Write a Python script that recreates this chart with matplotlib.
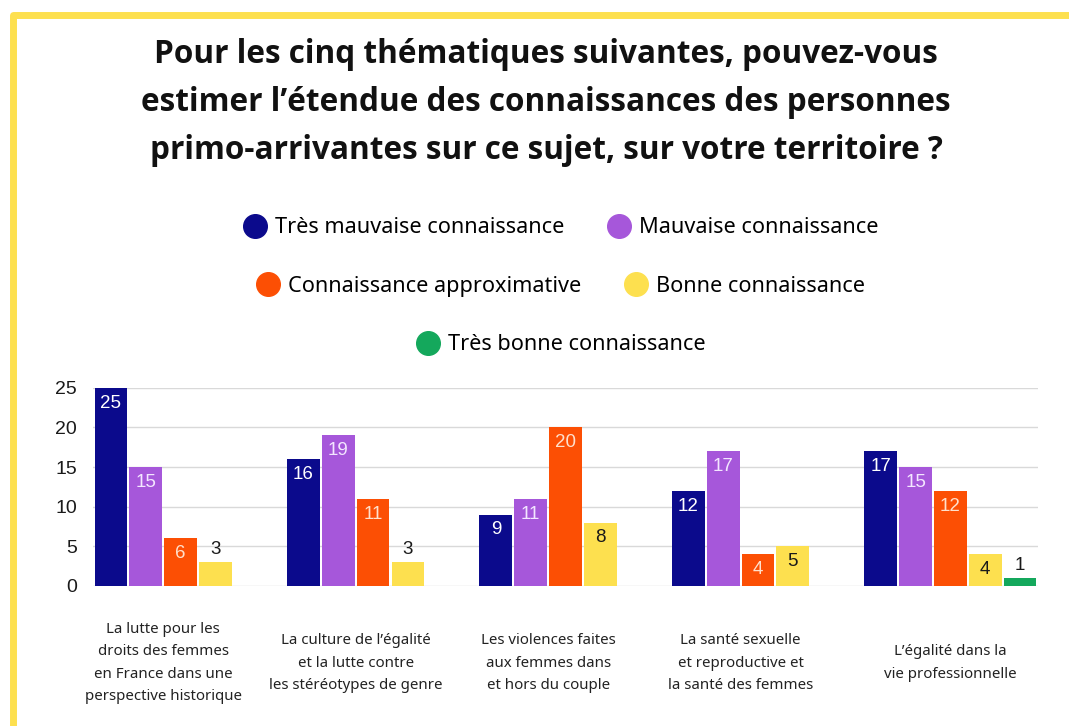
import numpy as np
import matplotlib.pyplot as plt
from matplotlib.lines import Line2D

# donnees
categories = ["La lutte pour les\ndroits des femmes\nen France dans une\nperspective historique",
              "La culture de l\u2019\u00e9galit\u00e9\net la lutte contre\nles st\u00e9r\u00e9otypes de genre",
              "Les violences faites\naux femmes dans\net hors du couple",
              "La sant\u00e9 sexuelle\net reproductive et\nla sant\u00e9 des femmes",
              "L\u2019\u00e9galit\u00e9 dans la\nvie professionnelle"]
series = ["Tr\u00e8s mauvaise connaissance", "Mauvaise connaissance",
          "Connaissance approximative", "Bonne connaissance",
          "Tr\u00e8s bonne connaissance"]
tres_mauvaise = [25, 16, 9, 12, 17]
mauvaise = [15, 19, 11, 17, 15]
approximative = [6, 11, 20, 4, 12]
bonne = [3, 3, 8, 5, 4]
tres_bonne = [0, 0, 0, 0, 1]

valeurs = [tres_mauvaise, mauvaise, approximative, bonne, tres_bonne]
couleurs = ["#0b0a8c", "#a657da", "#fc4f04", "#fde04f", "#14a85c"]
couleurs_txt = ["#ffffff", "#f3e6ff", "#ffe0cc", "#1a1a1a", "#1a1a1a"]
titre = ("Pour les cinq th\u00e9matiques suivantes, pouvez-vous\n"
         "estimer l\u2019\u00e9tendue des connaissances des personnes\n"
         "primo-arrivantes sur ce sujet, sur votre territoire ?")

fig = plt.figure(figsize=(10.69, 7.26), dpi=100)
ax = fig.add_axes([0.087, 0.193, 0.884, 0.2727])

# cadre jaune
fig.add_artist(Line2D([0.0125, 0.0125, 1.01], [-0.01, 0.9795, 0.9795],
                      transform=fig.transFigure, color="#fde04f", lw=5))

x = np.arange(len(categories))
w = 0.181
for i in range(5):
    pos = x + (i - 2) * w
    ax.bar(pos, valeurs[i], width=w * 0.94, color=couleurs[i], zorder=3)
    for p, v in zip(pos, valeurs[i]):
        if v == 0:
            continue
        if v >= 4:
            ax.annotate(str(v), (p, v), xytext=(0, -11), textcoords="offset points",
                        ha="center", va="center", fontsize=13.5,
                        color=couleurs_txt[i], family="Liberation Sans")
        else:
            ax.annotate(str(v), (p, v), xytext=(0, 9), textcoords="offset points",
                        ha="center", va="center", fontsize=13.5,
                        color="#1a1a1a", family="Liberation Sans")

ax.set_xlim(-0.455, 4.455)
ax.set_ylim(0, 25)
ax.set_yticks([0, 5, 10, 15, 20, 25])
ax.set_xticks([])
ax.grid(axis="y", color="#d9d9d9", lw=1, zorder=0)
for s in ax.spines.values():
    s.set_visible(False)
ax.tick_params(axis="y", length=0, pad=11.5, labelsize=14)
for t in ax.get_yticklabels():
    t.set_family("Liberation Sans")
    t.set_color("#1a1a1a")

# libelles centres sous les barres non nulles
for xi, c in enumerate(categories):
    slots = [i for i in range(5) if valeurs[i][xi] > 0]
    xc = xi + (np.mean(slots) - 2) * w
    ax.text(xc, -0.39, c, transform=ax.get_xaxis_transform(), ha="center",
            va="center", fontsize=10.8, color="#222222", family="Noto Sans",
            linespacing=1.68)

fig.text(0.511, 0.859, titre, ha="center", va="center", fontsize=22.7,
         fontweight="bold", family=["Open Sans", "DejaVu Sans"],
         linespacing=1.59, color="#111111")

# legende sur trois lignes
lignes = [[0, 1], [2, 3], [4]]
ys = [0.686, 0.606, 0.525]
for lig, yl in zip(lignes, ys):
    handles = [Line2D([], [], marker="o", ls="", markersize=17,
                      markerfacecolor=couleurs[k], markeredgecolor=couleurs[k])
               for k in lig]
    fig.legend(handles, [series[k] for k in lig], loc="center",
               bbox_to_anchor=(0.524, yl), ncol=len(lig), frameon=False,
               prop={"family": "Noto Sans", "size": 15.6}, handletextpad=0.35,
               columnspacing=1.9, handlelength=1.2)

fig.savefig("out.png", dpi=100)
